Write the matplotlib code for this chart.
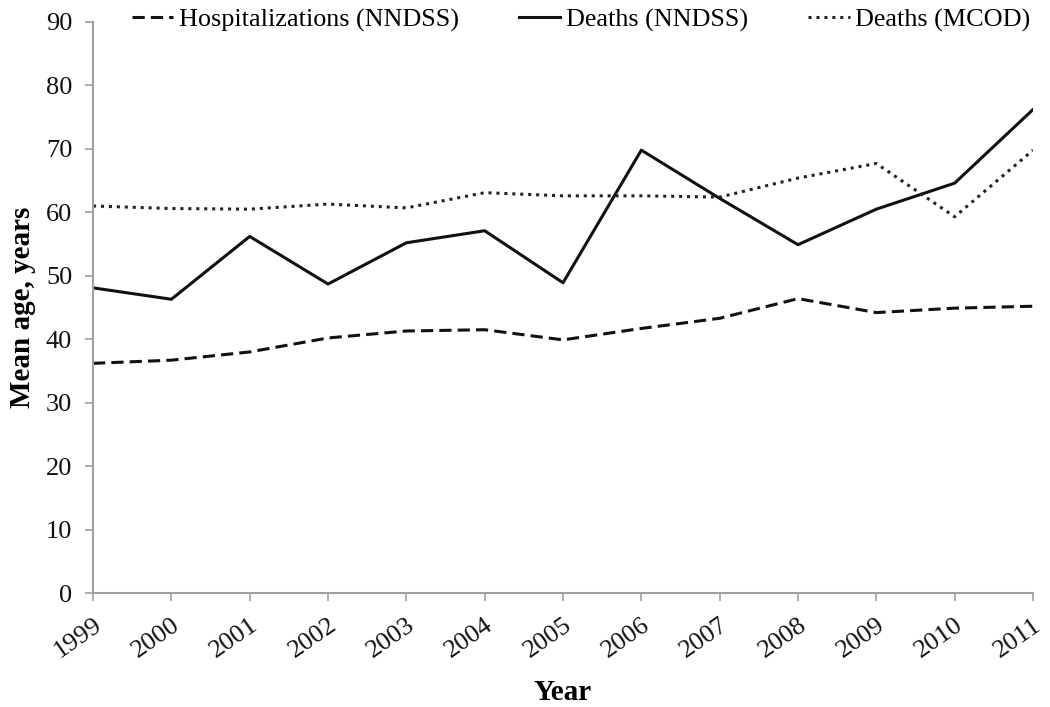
import matplotlib
matplotlib.use("Agg")
import matplotlib.pyplot as plt

years = [1999, 2000, 2001, 2002, 2003, 2004, 2005, 2006, 2007, 2008, 2009, 2010, 2011]
hosp_nndss = [36.2, 36.7, 38.0, 40.2, 41.3, 41.5, 39.9, 41.7, 43.3, 46.4, 44.2, 44.9, 45.2]
deaths_nndss = [48.1, 46.3, 56.2, 48.7, 55.2, 57.1, 48.9, 69.8, 62.2, 54.9, 60.5, 64.6, 76.2]
deaths_mcod = [61.0, 60.6, 60.5, 61.3, 60.7, 63.1, 62.6, 62.6, 62.4, 65.4, 67.7, 59.3, 69.8]

plt.rcParams["font.family"] = ["Liberation Serif", "DejaVu Serif"]

fig = plt.figure(figsize=(10.5, 7.07), dpi=100)
ax = fig.add_axes([0.0886, 0.1612, 0.8952, 0.8077])

ax.plot(years, hosp_nndss, color="#111111", lw=2.2, linestyle=(0, (4, 2)),
        label="Hospitalizations (NNDSS)")
ax.plot(years, deaths_nndss, color="#111111", lw=2.2, linestyle="-",
        label="Deaths (NNDSS)")
ax.plot(years, deaths_mcod, color="#222222", lw=2.2, linestyle=(0, (1, 1.6)),
        label="Deaths (MCOD)")

ax.set_xlim(1999, 2011)
ax.set_ylim(0, 90)
ax.set_yticks(range(0, 91, 10))
ax.set_xticks(years)
ax.set_xticklabels([str(y) for y in years], rotation=35, ha="right",
                   rotation_mode="anchor")

for side in ["top", "right"]:
    ax.spines[side].set_visible(False)
for side in ["left", "bottom"]:
    ax.spines[side].set_color("#a0a0a0")
    ax.spines[side].set_linewidth(1.5)
ax.tick_params(axis="both", colors="#a0a0a0", labelcolor="#111111",
               labelsize=19, length=6, width=1.2)
ax.tick_params(axis="x", pad=9)
ax.tick_params(axis="y", pad=9)

ax.set_xlabel("Year", fontsize=21, fontweight="bold", labelpad=12)
ax.set_ylabel("Mean age, years", fontsize=21, fontweight="bold", labelpad=7)

ax.legend(loc="center", bbox_to_anchor=(0.519, 1.004), ncol=3, frameon=False,
          fontsize=18.8, handlelength=1.6, handletextpad=0.2, columnspacing=2.3,
          borderaxespad=0)

fig.savefig("out.png", dpi=100)
